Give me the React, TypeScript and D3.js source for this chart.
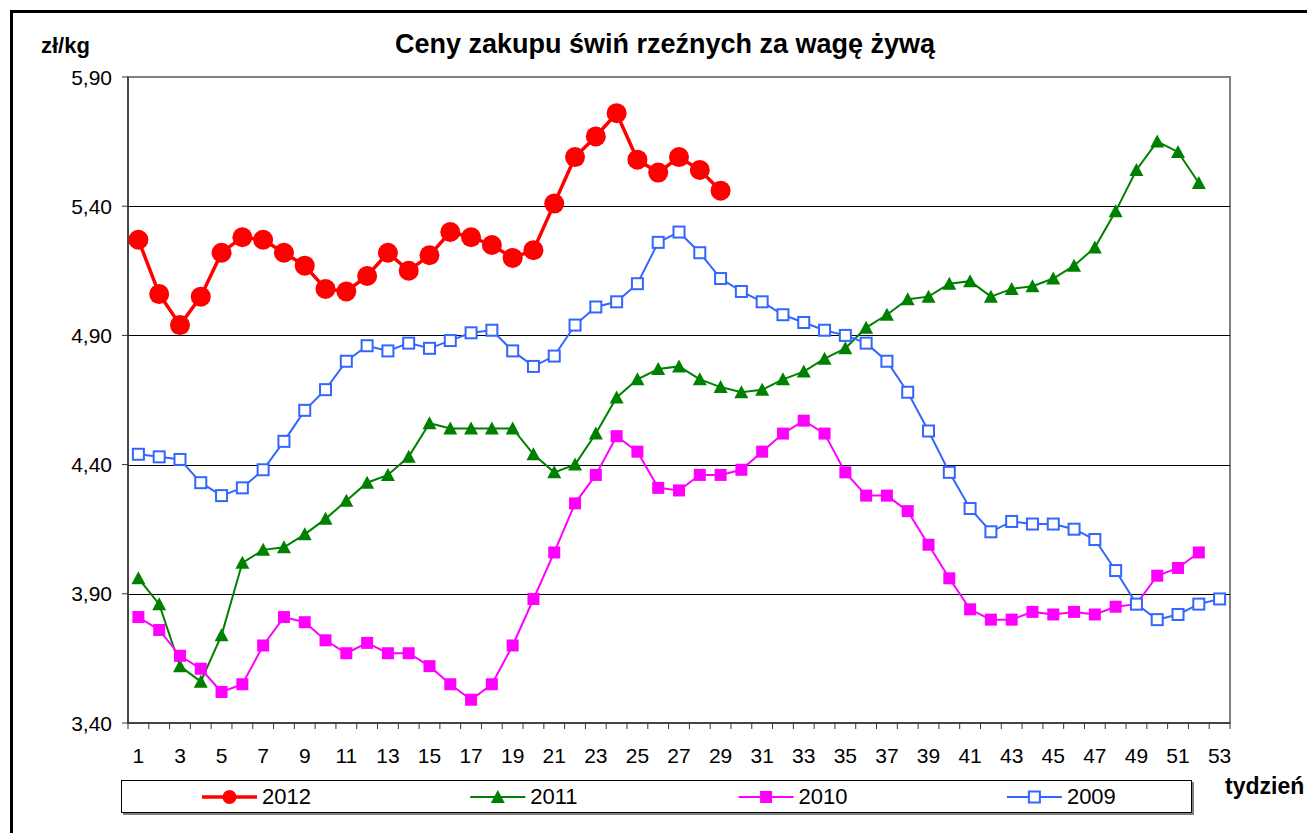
import React from "react";
import * as d3 from "d3";

const weeks: number[] = d3.range(1, 54);
const xTickLabels: number[] = d3.range(1, 54, 2);
const yTicks: number[] = [3.4, 3.9, 4.4, 4.9, 5.4, 5.9];

const s2012: number[] = [5.27, 5.06, 4.94, 5.05, 5.22, 5.28, 5.27, 5.22, 5.17, 5.08, 5.07, 5.13, 5.22, 5.15, 5.21, 5.30, 5.28, 5.25, 5.20, 5.23, 5.41, 5.59, 5.67, 5.76, 5.58, 5.53, 5.59, 5.54, 5.46];
const s2011: number[] = [3.96, 3.86, 3.62, 3.56, 3.74, 4.02, 4.07, 4.08, 4.13, 4.19, 4.26, 4.33, 4.36, 4.43, 4.56, 4.54, 4.54, 4.54, 4.54, 4.44, 4.37, 4.40, 4.52, 4.66, 4.73, 4.77, 4.78, 4.73, 4.70, 4.68, 4.69, 4.73, 4.76, 4.81, 4.85, 4.93, 4.98, 5.04, 5.05, 5.10, 5.11, 5.05, 5.08, 5.09, 5.12, 5.17, 5.24, 5.38, 5.54, 5.65, 5.61, 5.49];
const s2010: number[] = [3.81, 3.76, 3.66, 3.61, 3.52, 3.55, 3.70, 3.81, 3.79, 3.72, 3.67, 3.71, 3.67, 3.67, 3.62, 3.55, 3.49, 3.55, 3.70, 3.88, 4.06, 4.25, 4.36, 4.51, 4.45, 4.31, 4.30, 4.36, 4.36, 4.38, 4.45, 4.52, 4.57, 4.52, 4.37, 4.28, 4.28, 4.22, 4.09, 3.96, 3.84, 3.80, 3.80, 3.83, 3.82, 3.83, 3.82, 3.85, 3.86, 3.97, 4.00, 4.06];
const s2009: number[] = [4.44, 4.43, 4.42, 4.33, 4.28, 4.31, 4.38, 4.49, 4.61, 4.69, 4.80, 4.86, 4.84, 4.87, 4.85, 4.88, 4.91, 4.92, 4.84, 4.78, 4.82, 4.94, 5.01, 5.03, 5.10, 5.26, 5.30, 5.22, 5.12, 5.07, 5.03, 4.98, 4.95, 4.92, 4.90, 4.87, 4.80, 4.68, 4.53, 4.37, 4.23, 4.14, 4.18, 4.17, 4.17, 4.15, 4.11, 3.99, 3.86, 3.80, 3.82, 3.86, 3.88];

const seriesNames: string[] = ["2012", "2011", "2010", "2009"];
const seriesColors: string[] = ["#FF0000", "#008000", "#FF00FF", "#3366FF"];
const seriesData: number[][] = [s2012, s2011, s2010, s2009];
const seriesMarkers: string[] = ["circle", "triangle", "filledSquare", "openSquare"];

const FONT = "'Liberation Sans', Arial, sans-serif";

const L = 128, R = 1230, T = 77, B = 723;

function Marker({ type, cx, cy, color, r = 10 }: { type: string; cx: number; cy: number; color: string; r?: number }) {
  if (type === "circle") return <circle cx={cx} cy={cy} r={r} fill={color} />;
  if (type === "triangle") {
    const p = `${cx},${cy - 7} ${cx + 7},${cy + 6} ${cx - 7},${cy + 6}`;
    return <polygon points={p} fill={color} />;
  }
  if (type === "filledSquare") return <rect x={cx - 6} y={cy - 6} width={12} height={12} fill={color} />;
  return <rect x={cx - 5.5} y={cy - 5.5} width={11} height={11} fill="#fff" stroke={color} strokeWidth={2} />;
}

export default function App() {
  const x = d3.scaleLinear().domain([0.5, 53.5]).range([L, R]);
  const y = d3.scaleLinear().domain([3.4, 5.9]).range([B, T]);
  const line = d3.line<number>().x((_, i) => x(weeks[i])).y((d) => y(d));
  const lineWidths = [3.5, 2, 2, 2];
  const boundaries = d3.range(0.5, 54, 1);

  return (
    <svg width={1307} height={833} style={{ position: "absolute", left: 0, top: 0, background: "#fff" }} fontFamily={FONT}>
      <rect x={0} y={0} width={1307} height={833} fill="#fff" />
      <rect x={11.5} y={11.5} width={1400} height={900} fill="none" stroke="#000" strokeWidth={3} />

      <text x={665} y={53} textAnchor="middle" fontSize={27} fontWeight="bold">Ceny zakupu świń rzeźnych za wagę żywą</text>
      <text x={41} y={53} fontSize={22} fontWeight="bold">zł/kg</text>

      {/* plot border */}
      <rect x={L} y={T} width={R - L} height={B - T} fill="none" stroke="#808080" strokeWidth={2} />
      {yTicks.slice(1, -1).map((v) => (
        <line key={v} x1={L} x2={R} y1={Math.round(y(v)) + 0.5} y2={Math.round(y(v)) + 0.5} stroke="#000" strokeWidth={1} />
      ))}
      <line x1={L} x2={L} y1={T} y2={B} stroke="#333" strokeWidth={1.5} />
      <line x1={L} x2={R} y1={B} y2={B} stroke="#333" strokeWidth={1.5} />

      {yTicks.map((v) => (
        <g key={v}>
          <line x1={L - 6} x2={L} y1={y(v)} y2={y(v)} stroke="#333" />
          <text x={112} y={y(v) + 7.5} textAnchor="end" fontSize={21}>{v.toFixed(2).replace(".", ",")}</text>
        </g>
      ))}
      {boundaries.map((b) => (
        <line key={b} x1={x(b)} x2={x(b)} y1={B} y2={B + 6} stroke="#333" />
      ))}
      {xTickLabels.map((w) => (
        <text key={w} x={x(w)} y={763} textAnchor="middle" fontSize={21}>{w}</text>
      ))}
      <text x={1225} y={794} fontSize={23} fontWeight="bold">tydzień</text>

      {seriesData.map((data, si) => (
        <g key={seriesNames[si]}>
          <path d={line(data) || ""} fill="none" stroke={seriesColors[si]} strokeWidth={lineWidths[si]} />
          {data.map((v, i) => (
            <Marker key={i} type={seriesMarkers[si]} cx={x(weeks[i])} cy={y(v)} color={seriesColors[si]} />
          ))}
        </g>
      ))}

      {/* legend */}
      <rect x={123} y={782} width={1071} height={33} fill="#808080" />
      <rect x={121.5} y={780.5} width={1070} height={32} fill="#fff" stroke="#000" strokeWidth={1} />
      {seriesNames.map((n, i) => {
        const lx = 202 + i * 268.3;
        return (
          <g key={n}>
            <line x1={lx} x2={lx + 55} y1={797} y2={797} stroke={seriesColors[i]} strokeWidth={lineWidths[i]} />
            <Marker type={seriesMarkers[i]} cx={lx + 27.5} cy={797} color={seriesColors[i]} r={7} />
            <text x={lx + 60} y={804} fontSize={22}>{n}</text>
          </g>
        );
      })}
    </svg>
  );
}
